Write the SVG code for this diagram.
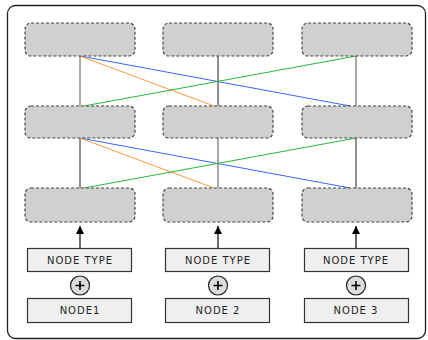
<svg xmlns="http://www.w3.org/2000/svg" width="428" height="340" viewBox="0 0 428 340">
  <defs>
    <marker id="arrow" viewBox="0 0 10 10" refX="10" refY="5" markerWidth="9" markerHeight="8" markerUnits="userSpaceOnUse" orient="auto">
      <path d="M0,0 L10,5 L0,10 z" fill="#000"/>
    </marker>
    <style>
      .frame { fill: #fff; stroke: #222; stroke-width: 1.3; }
      .slot { fill: #d0d0d0; stroke: #444; stroke-width: 1.2; stroke-dasharray: 3 2; }
      .label-box { fill: #efefef; stroke: #333; stroke-width: 1.2; }
      .label { font-family: "DejaVu Sans", sans-serif; font-size: 10px; letter-spacing: 1px; fill: #222; text-anchor: middle; }
      .plus-c { fill: #dcdcdc; stroke: #222; stroke-width: 1.2; }
      .plus { stroke: #000; stroke-width: 1.6; fill: none; }
      .link { fill: none; stroke-width: 1; }
      .v { stroke: #222; }
      .v2 { stroke: #555; }
      .blue { stroke: #3a64ff; }
      .orange { stroke: #ff9a3c; }
      .green { stroke: #22b83a; }
      .up { stroke: #000; stroke-width: 1.2; fill: none; }
    </style>
  </defs>

  <rect class="frame" x="7.5" y="5.5" width="418" height="333" rx="8"/>

  <!-- connectors between layers -->
  <g id="connectors">
    <line class="link v2" x1="80" y1="56" x2="80" y2="106"/>
    <line class="link v" x1="218" y1="56" x2="218" y2="106"/>
    <line class="link v2" x1="356" y1="56" x2="356" y2="106"/>
    <line class="link v" x1="80" y1="138" x2="80" y2="188"/>
    <line class="link v2" x1="218" y1="138" x2="218" y2="188"/>
    <line class="link v" x1="356" y1="138" x2="356" y2="188"/>

    <line class="link blue" x1="80" y1="56" x2="350" y2="106"/>
    <line class="link orange" x1="80" y1="56" x2="214" y2="106"/>
    <line class="link green" x1="84" y1="106" x2="356" y2="56"/>

    <line class="link blue" x1="80" y1="138" x2="350" y2="188"/>
    <line class="link orange" x1="80" y1="138" x2="214" y2="188"/>
    <line class="link green" x1="84" y1="188" x2="356" y2="138"/>

    <line class="up" x1="80" y1="248" x2="80" y2="226" marker-end="url(#arrow)"/>
    <line class="up" x1="218" y1="248" x2="218" y2="226" marker-end="url(#arrow)"/>
    <line class="up" x1="356" y1="248" x2="356" y2="226" marker-end="url(#arrow)"/>
  </g>

  <!-- top layer -->
  <g id="slot-1-1"><rect class="slot" x="25" y="23" width="110" height="33" rx="6"/></g>
  <g id="slot-1-2"><rect class="slot" x="163" y="23" width="110" height="33" rx="6"/></g>
  <g id="slot-1-3"><rect class="slot" x="302" y="23" width="110" height="33" rx="6"/></g>

  <!-- middle layer -->
  <g id="slot-2-1"><rect class="slot" x="25" y="106" width="110" height="32" rx="6"/></g>
  <g id="slot-2-2"><rect class="slot" x="163" y="106" width="110" height="32" rx="6"/></g>
  <g id="slot-2-3"><rect class="slot" x="302" y="106" width="110" height="32" rx="6"/></g>

  <!-- bottom layer -->
  <g id="slot-3-1"><rect class="slot" x="25" y="188" width="110" height="34" rx="6"/></g>
  <g id="slot-3-2"><rect class="slot" x="163" y="188" width="110" height="34" rx="6"/></g>
  <g id="slot-3-3"><rect class="slot" x="302" y="188" width="110" height="34" rx="6"/></g>

  <!-- inputs -->
  <g id="type-1">
    <rect class="label-box" x="27.5" y="248.5" width="104" height="23"/>
    <text class="label" x="80" y="264">NODE TYPE</text>
  </g>
  <g id="type-2">
    <rect class="label-box" x="165.5" y="248.5" width="104" height="23"/>
    <text class="label" x="218" y="264">NODE TYPE</text>
  </g>
  <g id="type-3">
    <rect class="label-box" x="304.5" y="248.5" width="104" height="23"/>
    <text class="label" x="356" y="264">NODE TYPE</text>
  </g>

  <g id="plus-1">
    <circle class="plus-c" cx="80" cy="285.5" r="9.5"/>
    <path class="plus" d="M75.5,285.5 H84.5 M80,281 V290"/>
  </g>
  <g id="plus-2">
    <circle class="plus-c" cx="218" cy="285.5" r="9.5"/>
    <path class="plus" d="M213.5,285.5 H222.5 M218,281 V290"/>
  </g>
  <g id="plus-3">
    <circle class="plus-c" cx="356" cy="285.5" r="9.5"/>
    <path class="plus" d="M351.5,285.5 H360.5 M356,281 V290"/>
  </g>

  <g id="node-1">
    <rect class="label-box" x="27.5" y="298.5" width="104" height="24"/>
    <text class="label" x="80" y="314">NODE1</text>
  </g>
  <g id="node-2">
    <rect class="label-box" x="165.5" y="298.5" width="104" height="24"/>
    <text class="label" x="218" y="314">NODE 2</text>
  </g>
  <g id="node-3">
    <rect class="label-box" x="304.5" y="298.5" width="104" height="24"/>
    <text class="label" x="356" y="314">NODE 3</text>
  </g>
</svg>
